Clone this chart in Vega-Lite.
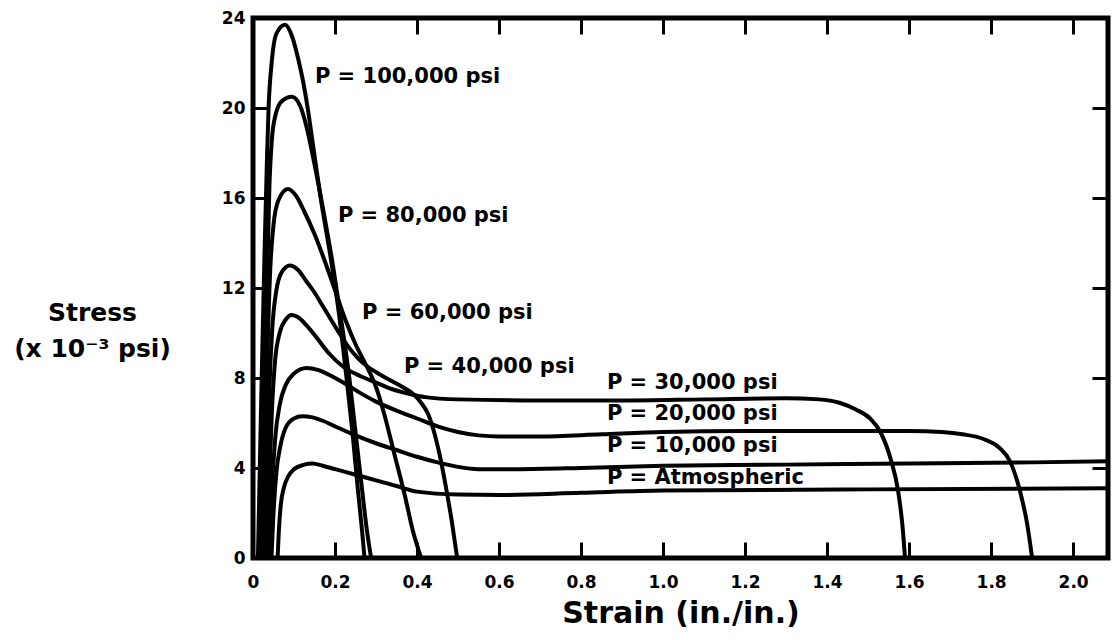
{
  "$schema": "https://vega.github.io/schema/vega-lite/v6.json",
  "width": 855,
  "height": 540,
  "autosize": "none",
  "padding": {"left": 253, "top": 18, "right": 6, "bottom": 82},
  "background": "white",
  "config": {
    "view": {"stroke": "black", "strokeWidth": 5},
    "font": "DejaVu Sans",
    "axis": {"grid": false, "domain": false, "tickColor": "black", "tickWidth": 3, "labelColor": "black", "titleColor": "black", "labelFont": "DejaVu Sans", "titleFont": "DejaVu Sans", "labelFontWeight": "bold", "titleFontWeight": "bold"}
  },
  "datasets": {
    "curves": [
      {"s": "100k", "x": 0.012, "y": 0}, {"s": "100k", "x": 0.02, "y": 7}, {"s": "100k", "x": 0.028, "y": 13.5}, {"s": "100k", "x": 0.034, "y": 17.7}, {"s": "100k", "x": 0.038, "y": 20}, {"s": "100k", "x": 0.046, "y": 22.1}, {"s": "100k", "x": 0.057, "y": 23.3}, {"s": "100k", "x": 0.078, "y": 23.7}, {"s": "100k", "x": 0.095, "y": 23.2}, {"s": "100k", "x": 0.11, "y": 22.2}, {"s": "100k", "x": 0.122, "y": 21.2}, {"s": "100k", "x": 0.135, "y": 19.8}, {"s": "100k", "x": 0.146, "y": 18.4}, {"s": "100k", "x": 0.165, "y": 16.0}, {"s": "100k", "x": 0.188, "y": 13.5}, {"s": "100k", "x": 0.21, "y": 10.8}, {"s": "100k", "x": 0.228, "y": 8.0}, {"s": "100k", "x": 0.243, "y": 5.5}, {"s": "100k", "x": 0.256, "y": 3.0}, {"s": "100k", "x": 0.266, "y": 1.2}, {"s": "100k", "x": 0.272, "y": 0},
      {"s": "80k", "x": 0.02, "y": 0}, {"s": "80k", "x": 0.027, "y": 6}, {"s": "80k", "x": 0.034, "y": 12}, {"s": "80k", "x": 0.04, "y": 16.5}, {"s": "80k", "x": 0.046, "y": 18.6}, {"s": "80k", "x": 0.055, "y": 19.7}, {"s": "80k", "x": 0.07, "y": 20.3}, {"s": "80k", "x": 0.095, "y": 20.5}, {"s": "80k", "x": 0.115, "y": 20.1}, {"s": "80k", "x": 0.13, "y": 19.2}, {"s": "80k", "x": 0.15, "y": 17.5}, {"s": "80k", "x": 0.17, "y": 15.6}, {"s": "80k", "x": 0.195, "y": 13.0}, {"s": "80k", "x": 0.215, "y": 10.6}, {"s": "80k", "x": 0.235, "y": 8.0}, {"s": "80k", "x": 0.25, "y": 5.6}, {"s": "80k", "x": 0.265, "y": 3.2}, {"s": "80k", "x": 0.278, "y": 1.2}, {"s": "80k", "x": 0.288, "y": 0},
      {"s": "60k", "x": 0.025, "y": 0}, {"s": "60k", "x": 0.031, "y": 5}, {"s": "60k", "x": 0.036, "y": 9.5}, {"s": "60k", "x": 0.042, "y": 12.8}, {"s": "60k", "x": 0.05, "y": 14.8}, {"s": "60k", "x": 0.062, "y": 15.9}, {"s": "60k", "x": 0.085, "y": 16.4}, {"s": "60k", "x": 0.105, "y": 16.1}, {"s": "60k", "x": 0.125, "y": 15.4}, {"s": "60k", "x": 0.15, "y": 14.4}, {"s": "60k", "x": 0.175, "y": 13.2}, {"s": "60k", "x": 0.2, "y": 11.9}, {"s": "60k", "x": 0.225, "y": 10.6}, {"s": "60k", "x": 0.25, "y": 9.5}, {"s": "60k", "x": 0.275, "y": 8.6}, {"s": "60k", "x": 0.3, "y": 7.6}, {"s": "60k", "x": 0.32, "y": 6.4}, {"s": "60k", "x": 0.345, "y": 4.6}, {"s": "60k", "x": 0.37, "y": 2.8}, {"s": "60k", "x": 0.39, "y": 1.2}, {"s": "60k", "x": 0.41, "y": 0},
      {"s": "40k", "x": 0.03, "y": 0}, {"s": "40k", "x": 0.035, "y": 4}, {"s": "40k", "x": 0.04, "y": 7.5}, {"s": "40k", "x": 0.047, "y": 10.2}, {"s": "40k", "x": 0.057, "y": 11.9}, {"s": "40k", "x": 0.07, "y": 12.7}, {"s": "40k", "x": 0.09, "y": 13.0}, {"s": "40k", "x": 0.11, "y": 12.8}, {"s": "40k", "x": 0.13, "y": 12.3}, {"s": "40k", "x": 0.15, "y": 11.8}, {"s": "40k", "x": 0.17, "y": 11.2}, {"s": "40k", "x": 0.19, "y": 10.6}, {"s": "40k", "x": 0.21, "y": 10.0}, {"s": "40k", "x": 0.23, "y": 9.45}, {"s": "40k", "x": 0.255, "y": 8.9}, {"s": "40k", "x": 0.28, "y": 8.5}, {"s": "40k", "x": 0.31, "y": 8.15}, {"s": "40k", "x": 0.335, "y": 7.9}, {"s": "40k", "x": 0.365, "y": 7.6}, {"s": "40k", "x": 0.39, "y": 7.3}, {"s": "40k", "x": 0.41, "y": 6.9}, {"s": "40k", "x": 0.427, "y": 6.4}, {"s": "40k", "x": 0.44, "y": 5.7}, {"s": "40k", "x": 0.455, "y": 4.6}, {"s": "40k", "x": 0.47, "y": 3.2}, {"s": "40k", "x": 0.485, "y": 1.6}, {"s": "40k", "x": 0.498, "y": 0},
      {"s": "30k", "x": 0.035, "y": 0}, {"s": "30k", "x": 0.04, "y": 3.5}, {"s": "30k", "x": 0.046, "y": 6.5}, {"s": "30k", "x": 0.054, "y": 8.8}, {"s": "30k", "x": 0.065, "y": 10.0}, {"s": "30k", "x": 0.08, "y": 10.6}, {"s": "30k", "x": 0.095, "y": 10.8}, {"s": "30k", "x": 0.11, "y": 10.7}, {"s": "30k", "x": 0.13, "y": 10.35}, {"s": "30k", "x": 0.155, "y": 9.8}, {"s": "30k", "x": 0.185, "y": 9.1}, {"s": "30k", "x": 0.22, "y": 8.5}, {"s": "30k", "x": 0.26, "y": 8.1}, {"s": "30k", "x": 0.3, "y": 7.8}, {"s": "30k", "x": 0.34, "y": 7.5}, {"s": "30k", "x": 0.38, "y": 7.3}, {"s": "30k", "x": 0.42, "y": 7.15}, {"s": "30k", "x": 0.5, "y": 7.05}, {"s": "30k", "x": 0.7, "y": 7.0}, {"s": "30k", "x": 0.9, "y": 7.0}, {"s": "30k", "x": 1.1, "y": 7.05}, {"s": "30k", "x": 1.3, "y": 7.1}, {"s": "30k", "x": 1.38, "y": 7.05}, {"s": "30k", "x": 1.43, "y": 6.9}, {"s": "30k", "x": 1.47, "y": 6.6}, {"s": "30k", "x": 1.505, "y": 6.2}, {"s": "30k", "x": 1.53, "y": 5.6}, {"s": "30k", "x": 1.555, "y": 4.4}, {"s": "30k", "x": 1.573, "y": 3.0}, {"s": "30k", "x": 1.585, "y": 1.2}, {"s": "30k", "x": 1.59, "y": 0},
      {"s": "20k", "x": 0.04, "y": 0}, {"s": "20k", "x": 0.046, "y": 3}, {"s": "20k", "x": 0.054, "y": 5.3}, {"s": "20k", "x": 0.065, "y": 6.8}, {"s": "20k", "x": 0.08, "y": 7.7}, {"s": "20k", "x": 0.1, "y": 8.2}, {"s": "20k", "x": 0.13, "y": 8.45}, {"s": "20k", "x": 0.16, "y": 8.35}, {"s": "20k", "x": 0.19, "y": 8.1}, {"s": "20k", "x": 0.22, "y": 7.8}, {"s": "20k", "x": 0.26, "y": 7.35}, {"s": "20k", "x": 0.3, "y": 6.95}, {"s": "20k", "x": 0.35, "y": 6.55}, {"s": "20k", "x": 0.4, "y": 6.2}, {"s": "20k", "x": 0.45, "y": 5.85}, {"s": "20k", "x": 0.5, "y": 5.6}, {"s": "20k", "x": 0.55, "y": 5.45}, {"s": "20k", "x": 0.6, "y": 5.4}, {"s": "20k", "x": 0.7, "y": 5.4}, {"s": "20k", "x": 0.85, "y": 5.5}, {"s": "20k", "x": 1.0, "y": 5.6}, {"s": "20k", "x": 1.2, "y": 5.65}, {"s": "20k", "x": 1.4, "y": 5.65}, {"s": "20k", "x": 1.6, "y": 5.65}, {"s": "20k", "x": 1.68, "y": 5.6}, {"s": "20k", "x": 1.73, "y": 5.5}, {"s": "20k", "x": 1.78, "y": 5.3}, {"s": "20k", "x": 1.82, "y": 4.9}, {"s": "20k", "x": 1.846, "y": 4.3}, {"s": "20k", "x": 1.87, "y": 3.0}, {"s": "20k", "x": 1.888, "y": 1.5}, {"s": "20k", "x": 1.9, "y": 0},
      {"s": "10k", "x": 0.045, "y": 0}, {"s": "10k", "x": 0.05, "y": 2}, {"s": "10k", "x": 0.057, "y": 3.8}, {"s": "10k", "x": 0.067, "y": 5.0}, {"s": "10k", "x": 0.08, "y": 5.8}, {"s": "10k", "x": 0.1, "y": 6.2}, {"s": "10k", "x": 0.12, "y": 6.3}, {"s": "10k", "x": 0.145, "y": 6.25}, {"s": "10k", "x": 0.17, "y": 6.1}, {"s": "10k", "x": 0.2, "y": 5.85}, {"s": "10k", "x": 0.25, "y": 5.45}, {"s": "10k", "x": 0.3, "y": 5.1}, {"s": "10k", "x": 0.35, "y": 4.8}, {"s": "10k", "x": 0.4, "y": 4.5}, {"s": "10k", "x": 0.45, "y": 4.25}, {"s": "10k", "x": 0.5, "y": 4.05}, {"s": "10k", "x": 0.55, "y": 3.95}, {"s": "10k", "x": 0.65, "y": 3.95}, {"s": "10k", "x": 0.8, "y": 4.0}, {"s": "10k", "x": 1.0, "y": 4.1}, {"s": "10k", "x": 1.3, "y": 4.15}, {"s": "10k", "x": 1.6, "y": 4.2}, {"s": "10k", "x": 1.9, "y": 4.25}, {"s": "10k", "x": 2.085, "y": 4.3},
      {"s": "atm", "x": 0.06, "y": 0}, {"s": "atm", "x": 0.063, "y": 1.2}, {"s": "atm", "x": 0.068, "y": 2.4}, {"s": "atm", "x": 0.075, "y": 3.1}, {"s": "atm", "x": 0.085, "y": 3.6}, {"s": "atm", "x": 0.1, "y": 3.95}, {"s": "atm", "x": 0.125, "y": 4.15}, {"s": "atm", "x": 0.145, "y": 4.2}, {"s": "atm", "x": 0.17, "y": 4.1}, {"s": "atm", "x": 0.2, "y": 3.95}, {"s": "atm", "x": 0.25, "y": 3.7}, {"s": "atm", "x": 0.3, "y": 3.45}, {"s": "atm", "x": 0.35, "y": 3.2}, {"s": "atm", "x": 0.4, "y": 2.95}, {"s": "atm", "x": 0.5, "y": 2.82}, {"s": "atm", "x": 0.6, "y": 2.8}, {"s": "atm", "x": 0.8, "y": 2.9}, {"s": "atm", "x": 1.0, "y": 3.0}, {"s": "atm", "x": 1.5, "y": 3.05}, {"s": "atm", "x": 2.085, "y": 3.1}
    ],
    "labels": [
      {"label": "P = 100,000 psi", "x": 0.151, "y": 21.4},
      {"label": "P = 80,000 psi", "x": 0.207, "y": 15.2},
      {"label": "P = 60,000 psi", "x": 0.266, "y": 10.9},
      {"label": "P = 40,000 psi", "x": 0.368, "y": 8.5},
      {"label": "P = 30,000 psi", "x": 0.863, "y": 7.8},
      {"label": "P = 20,000 psi", "x": 0.863, "y": 6.4},
      {"label": "P = 10,000 psi", "x": 0.863, "y": 5.0},
      {"label": "P = Atmospheric", "x": 0.863, "y": 3.55}
    ]
  },
  "layer": [
    {
      "data": {"name": "curves"},
      "mark": {"type": "line", "color": "black", "strokeWidth": 4, "interpolate": "monotone"},
      "encoding": {
        "x": {"field": "x", "type": "quantitative", "scale": {"domain": [0, 2.085], "nice": false, "zero": false},
          "axis": {"orient": "bottom", "values": [0, 0.2, 0.4, 0.6, 0.8, 1, 1.2, 1.4, 1.6, 1.8, 2], "labelExpr": "datum.value == 0 ? '0' : format(datum.value, '.1f')", "tickSize": -16, "labelPadding": 32, "labelFontSize": 17, "labelFlush": false, "title": "Strain (in./in.)", "titleFontSize": 30, "titleY": 64, "titleBaseline": "alphabetic"}},
        "y": {"field": "y", "type": "quantitative", "scale": {"domain": [0, 24], "nice": false},
          "axis": {"orient": "left", "values": [0, 4, 8, 12, 16, 20, 24], "tickSize": -16, "labelPadding": 24, "labelFontSize": 17, "labelFlush": false, "title": ["Stress", "(x 10⁻³ psi)"], "titleAngle": 0, "titleAlign": "center", "titleBaseline": "top", "titleX": -161, "titleY": 282, "titleFontSize": 25, "titleLineHeight": 36}},
        "detail": {"field": "s"}
      }
    },
    {
      "data": {"name": "labels"},
      "mark": {"type": "text", "align": "left", "baseline": "middle", "font": "DejaVu Sans", "fontWeight": "bold", "fontSize": 21, "color": "black"},
      "encoding": {
        "x": {"field": "x", "type": "quantitative", "axis": {"orient": "top", "values": [0.2, 0.4, 0.6, 0.8, 1, 1.2, 1.4, 1.6, 1.8, 2], "labels": false, "title": null, "tickSize": -16}},
        "y": {"field": "y", "type": "quantitative", "axis": {"orient": "right", "values": [4, 8, 12, 16, 20], "labels": false, "title": null, "tickSize": -16}},
        "text": {"field": "label"}
      }
    }
  ],
  "resolve": {"axis": {"x": "independent", "y": "independent"}}
}
